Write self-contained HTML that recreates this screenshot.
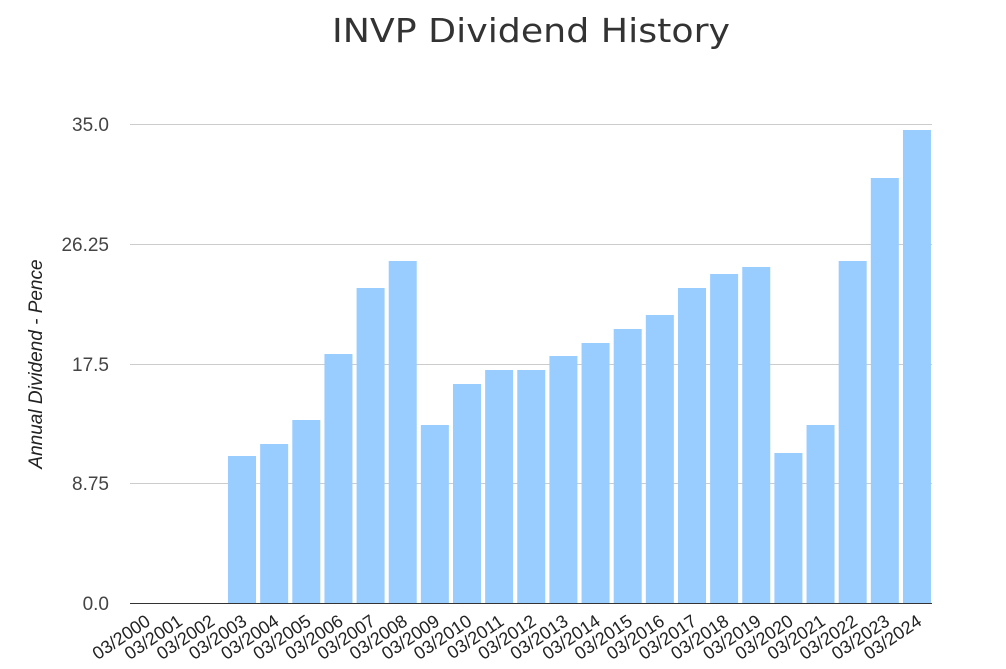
<!DOCTYPE html>
<html><head><meta charset="utf-8"><style>body{margin:0;background:#fff}</style></head>
<body>
<svg width="1006" height="664" xmlns="http://www.w3.org/2000/svg" font-family="Liberation Sans, Arial, sans-serif">
<rect width="1006" height="664" fill="#fff"/>
<text x="332" y="42" font-family="DejaVu Sans, sans-serif" font-size="33" fill="#333" textLength="398" lengthAdjust="spacingAndGlyphs">INVP Dividend History</text>
<g stroke="#ccc" stroke-width="1">
<line x1="130" x2="932" y1="124.5" y2="124.5"/>
<line x1="130" x2="932" y1="244.5" y2="244.5"/>
<line x1="130" x2="932" y1="364.5" y2="364.5"/>
<line x1="130" x2="932" y1="483.5" y2="483.5"/>
</g>
<g font-size="19" fill="#444" text-anchor="end">
<text x="109" y="131">35.0</text>
<text x="109" y="251">26.25</text>
<text x="109" y="371">17.5</text>
<text x="109" y="490">8.75</text>
<text x="109" y="610">0.0</text>
</g>
<text transform="translate(42,364) rotate(-90)" text-anchor="middle" font-size="19" font-style="italic" fill="#222">Annual Dividend - Pence</text>
<g fill="#99ccff" id="bars"></g>
<line x1="130" x2="932" y1="603.5" y2="603.5" stroke="#333" stroke-width="1"/>
<g id="labels" font-size="18" fill="#222" text-anchor="end"></g>
<script>
var tops=[603,603,603,456,444,420,354,288,261,425,384,370,370,356,343,329,315,288,274,267,453,425,261,178,130];
var b=document.getElementById('bars'),l=document.getElementById('labels'),ns='http://www.w3.org/2000/svg';
for(var i=0;i<25;i++){var x=129.6+i*32.14;
if(tops[i]<603){var r=document.createElementNS(ns,'rect');r.setAttribute('x',x+2);r.setAttribute('y',tops[i]);r.setAttribute('width',28);r.setAttribute('height',603-tops[i]);b.appendChild(r);}
var t=document.createElementNS(ns,'text');var cx=x+22,cy=624;t.setAttribute('transform','translate('+cx+','+cy+') rotate(-34)');t.textContent='03/'+(2000+i);l.appendChild(t);}
</script>
</svg>
</body></html>
